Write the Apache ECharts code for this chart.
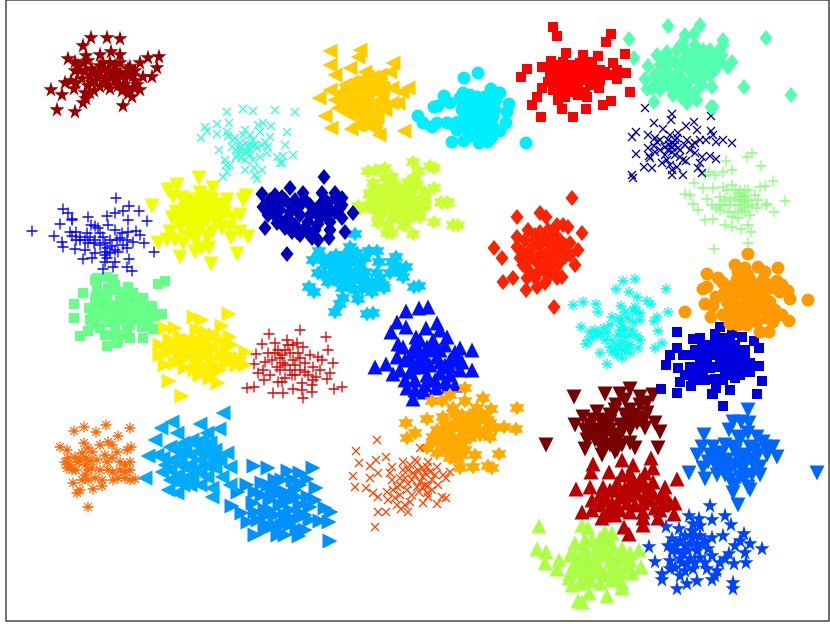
<!DOCTYPE html>
<html>
<head>
<meta charset="utf-8">
<title>clusters</title>
<script src="https://cdn.jsdelivr.net/npm/echarts@6/dist/echarts.min.js"></script>
<style>
  html, body { margin: 0; padding: 0; background: #fff; }
  #main { width: 830px; height: 624px; }
</style>
</head>
<body>
<div id="main"></div>
<script>
// points, one list per cluster
const darkRedStars = [[91,37],[107,37],[120,38],[83,45],[68,58],[86,55],[100,54],[111,51],[120,54],[75,61],[159,56],[148,57],[140,62],[157,67],[152,76],[143,76],[51,89],[62,94],[57,109],[75,111],[83,102],[123,105],[132,96],[140,89],[65,82],[74,88],[76,82],[85,70],[80,70],[90,75],[100,72],[105,78],[110,70],[115,65],[120,72],[125,78],[130,72],[135,80],[128,88],[118,85],[110,88],[105,82],[95,80],[88,85],[85,92],[90,92],[100,65],[110,62],[120,62],[128,68],[135,70],[95,72],[75,70],[84,62],[115,80],[122,90],[134,87],[92,68],[98,76],[104,68],[112,75],[118,78],[124,84],[130,66],[126,72],[108,84],[100,86],[92,82],[82,78],[78,65],[88,60],[133,75],[116,70],[103,62],[86,98],[94,90],[128,93],[137,84],[71,80]];
const turquoiseCross = [[227,112],[243,109],[253,111],[275,110],[205,127],[207,131],[201,138],[217,124],[217,134],[229,123],[227,132],[219,150],[225,160],[227,172],[223,177],[245,170],[262,170],[257,179],[263,123],[271,126],[270,137],[245,130],[253,140],[240,143],[233,140],[248,147],[257,148],[238,155],[245,152],[253,160],[260,157],[267,153],[260,132],[277,157],[280,163],[295,112],[287,132],[285,145],[293,155],[283,156],[282,163],[228,136],[236,150],[250,135],[265,142],[241,158],[254,168],[226,165],[250,150],[246,143],[235,138],[240,150],[243,135],[255,145],[250,155],[262,145],[258,125],[268,147],[232,147],[245,160],[255,175],[230,165],[236,157],[241,147],[248,152],[252,146]];
const yellowDown = [[199,178],[177,185],[168,190],[152,206],[246,196],[213,188],[200,193],[182,198],[173,197],[183,200],[176,212],[172,218],[180,227],[170,232],[158,243],[167,240],[183,243],[180,257],[195,252],[202,248],[209,248],[211,264],[237,254],[248,237],[231,238],[240,232],[240,215],[243,200],[200,210],[213,207],[227,200],[197,227],[207,237],[217,223],[187,217],[207,197],[220,213],[230,227],[193,200],[207,220],[197,215],[205,205],[215,215],[190,230],[225,205],[195,240],[190,205],[200,200],[212,200],[220,205],[185,210],[195,208],[205,213],[215,222],[225,213],[180,220],[190,222],[202,225],[212,232],[222,228],[197,235],[187,237],[175,240],[205,218],[210,208],[232,218],[195,222]];
const darkBlueDiamonds = [[287,254],[353,213],[345,232],[329,238],[318,240],[342,218],[335,198],[324,177],[290,188],[303,193],[322,193],[335,193],[342,198],[262,194],[263,207],[265,228],[277,223],[277,200],[273,213],[285,200],[295,200],[310,205],[320,205],[330,210],[290,212],[300,215],[310,215],[320,218],[330,222],[285,222],[295,225],[305,228],[315,230],[280,210],[340,208],[300,205],[275,195],[285,228],[297,232],[308,233],[270,200],[268,215],[282,197],[292,207],[305,200],[315,210],[325,200],[335,212],[342,205],[278,218],[288,218],[298,208],[308,222],[318,224],[325,214],[300,235],[312,238],[272,205],[292,232],[330,230],[328,203],[280,202]];
const bluePlus = [[32,231],[54,236],[116,198],[63,209],[68,213],[88,217],[72,220],[60,224],[107,216],[115,213],[123,211],[129,206],[139,211],[128,220],[147,221],[95,226],[108,225],[115,230],[70,232],[87,233],[136,231],[140,235],[62,242],[63,247],[76,240],[75,249],[94,243],[103,237],[127,240],[133,242],[144,243],[154,252],[127,248],[115,250],[105,252],[85,250],[83,259],[107,258],[115,262],[129,259],[103,269],[113,267],[127,267],[132,271],[95,253],[88,243],[110,253],[117,240],[100,233],[80,237],[123,245],[91,225],[72,219],[105,255],[122,233],[80,240],[95,240],[100,245],[105,243],[110,240],[90,237],[98,228],[85,240],[107,248],[112,246],[118,252],[72,236],[76,232],[120,238],[128,232],[92,258],[105,262]];
const greenSquares = [[74,304],[74,318],[80,336],[88,331],[83,293],[89,308],[97,278],[107,277],[113,279],[158,284],[165,281],[128,287],[97,288],[143,298],[152,306],[162,314],[154,316],[153,329],[143,338],[142,327],[130,338],[117,343],[107,346],[100,328],[90,320],[113,290],[107,297],[120,300],[133,293],[103,310],[117,312],[133,317],[147,307],[100,317],[115,327],[127,330],[137,300],[110,305],[122,320],[108,322],[128,307],[95,280],[96,296],[140,320],[115,285],[120,292],[125,300],[118,305],[112,312],[105,303],[98,305],[95,300],[125,314],[118,320],[112,318],[105,317],[130,325],[135,310],[145,315],[122,335],[112,335],[105,335],[95,325],[138,308],[128,297],[100,295],[148,325],[108,288],[118,340],[92,315]];
const yellowRight = [[229,314],[194,317],[202,320],[222,326],[165,328],[175,328],[230,337],[160,345],[246,352],[245,365],[169,381],[182,396],[218,383],[210,378],[200,375],[160,355],[207,333],[197,330],[180,337],[173,347],[187,350],[200,347],[213,347],[227,347],[233,357],[237,365],[227,363],[213,357],[207,367],[197,360],[183,360],[175,363],[220,340],[190,340],[203,357],[168,353],[185,345],[192,348],[180,355],[190,355],[205,340],[215,335],[215,365],[222,355],[200,365],[195,370],[185,368],[178,345],[170,340],[210,350],[205,352],[220,370],[232,345],[197,340],[165,365],[212,372],[240,358],[226,355]];
const redPlus = [[300,330],[326,337],[328,350],[287,340],[297,343],[333,363],[330,373],[327,379],[342,387],[334,389],[302,383],[312,385],[312,392],[302,390],[293,389],[283,393],[303,398],[318,357],[322,360],[313,367],[305,363],[293,360],[285,350],[303,347],[290,353],[300,370],[292,375],[283,363],[282,382],[313,380],[316,377],[269,334],[262,344],[275,343],[256,354],[268,353],[254,364],[263,370],[258,373],[264,380],[247,388],[254,387],[273,393],[277,367],[275,353],[278,382],[288,345],[295,365],[280,370],[308,375],[272,360],[280,358],[285,365],[290,370],[298,353],[310,355],[295,375],[285,378],[270,375],[282,355],[305,372],[293,345],[278,350],[300,358],[265,362],[320,370]];
const orangeAsterisk = [[74,431],[84,427],[96,432],[106,425],[130,428],[118,436],[108,442],[131,447],[60,447],[67,450],[84,443],[100,445],[92,452],[82,453],[117,452],[127,450],[65,462],[67,468],[80,460],[107,462],[120,462],[130,462],[130,470],[88,470],[113,472],[125,478],[135,479],[113,480],[102,480],[88,480],[73,483],[82,480],[77,493],[93,489],[102,486],[88,507],[125,472],[97,460],[75,457],[90,461],[112,445],[70,465],[85,475],[78,462],[86,458],[92,468],[100,470],[105,455],[112,458],[95,478],[120,470],[125,465],[68,458],[72,470],[85,465],[80,490],[108,470],[130,480],[118,478],[88,448],[76,470]];
const azureLeft = [[223,413],[172,422],[200,424],[161,428],[219,429],[155,440],[177,433],[207,433],[148,456],[157,455],[227,453],[230,467],[145,478],[162,472],[168,490],[177,493],[212,497],[212,488],[200,485],[190,485],[222,477],[215,468],[183,443],[170,447],[163,458],[180,457],[197,445],[210,443],[213,457],[200,460],[185,467],[170,470],[200,472],[187,477],[207,477],[230,485],[176,480],[190,455],[185,450],[192,440],[205,450],[175,450],[190,465],[180,465],[205,465],[195,470],[178,475],[210,465],[220,460],[165,465],[198,452],[172,460],[183,485],[215,450],[202,440],[208,455],[192,478],[170,480]];
const azureRight = [[254,466],[268,468],[238,492],[247,485],[232,506],[242,513],[248,522],[255,535],[267,525],[267,515],[253,503],[255,492],[313,468],[288,471],[300,473],[307,479],[316,488],[325,508],[331,512],[320,521],[329,522],[330,541],[299,536],[285,535],[297,529],[310,507],[297,497],[287,493],[300,513],[287,517],[308,497],[293,480],[275,480],[280,505],[270,500],[275,515],[265,530],[262,483],[275,495],[290,510],[282,525],[272,490],[262,495],[270,510],[280,490],[285,500],[295,490],[300,505],[285,515],[275,525],[265,510],[255,512],[290,525],[305,515],[310,520],[295,520],[282,480],[258,520],[268,485],[305,530],[290,500],[278,535],[315,500],[300,485]];
const orangeRedCross = [[377,440],[356,451],[359,463],[375,527],[353,476],[355,487],[366,488],[370,478],[370,466],[376,460],[386,457],[378,473],[373,493],[378,497],[387,492],[378,512],[386,512],[397,505],[401,509],[408,512],[392,467],[403,462],[417,462],[420,448],[437,467],[443,475],[450,472],[446,478],[442,497],[446,498],[437,504],[423,503],[428,497],[410,502],[400,495],[392,480],[405,478],[413,473],[423,477],[432,480],[423,488],[407,490],[417,487],[427,467],[397,487],[422,468],[403,470],[427,493],[390,473],[412,480],[395,498],[419,492],[425,485],[410,465],[430,472],[408,470],[415,475],[420,482],[428,486],[435,475],[400,485],[393,490],[412,495],[405,505],[388,500],[432,490],[418,470],[425,473],[400,478],[438,485],[415,460],[428,462],[408,484]];
const amberHexagrams = [[406,423],[415,433],[407,438],[427,419],[465,388],[450,395],[465,401],[483,398],[432,401],[442,401],[517,408],[504,427],[516,429],[499,454],[488,466],[492,468],[473,467],[460,468],[475,455],[462,455],[450,458],[437,453],[427,448],[491,409],[477,408],[453,408],[490,437],[480,435],[490,423],[443,417],[437,430],[433,442],[443,443],[457,423],[470,423],[480,420],[463,433],[450,433],[462,445],[450,448],[470,415],[455,415],[443,430],[475,430],[445,425],[452,428],[460,425],[468,430],[475,425],[485,430],[470,438],[460,440],[450,438],[440,437],[445,450],[455,452],[465,450],[458,460],[483,415],[475,413],[462,415],[495,428],[488,420],[455,440],[433,437],[445,445],[468,418]];
const blueUp = [[406,311],[419,308],[428,307],[397,322],[391,332],[406,327],[426,328],[437,323],[375,367],[386,364],[472,350],[447,337],[440,330],[416,337],[398,344],[460,348],[472,370],[460,370],[455,385],[448,386],[436,388],[424,392],[407,388],[413,399],[393,374],[405,380],[415,380],[397,357],[413,350],[427,347],[437,357],[450,360],[423,367],[413,367],[440,373],[450,375],[428,380],[403,347],[433,340],[457,360],[415,345],[420,352],[425,358],[432,350],[440,350],[445,345],[410,358],[405,360],[418,362],[430,365],[445,365],[455,352],[435,345],[420,340],[427,375],[410,372],[435,380],[445,382],[400,370],[450,367],[462,362],[425,385],[415,390],[440,362]];
const skyHexagrams = [[355,234],[350,247],[319,251],[313,260],[309,287],[314,292],[335,312],[340,304],[343,298],[358,299],[367,314],[373,313],[414,287],[419,286],[403,277],[406,267],[396,257],[395,265],[390,273],[384,288],[372,292],[362,289],[342,288],[328,282],[318,273],[325,265],[336,255],[357,253],[369,251],[377,251],[379,262],[377,273],[368,282],[352,280],[340,273],[350,263],[358,272],[333,270],[383,285],[345,255],[330,258],[349,285],[330,262],[338,262],[345,268],[355,262],[365,258],[345,278],[335,280],[325,275],[360,280],[350,272],[365,272],[372,283],[380,278],[392,262],[397,270],[355,290],[335,272],[342,262],[322,258],[374,285],[352,255],[342,280],[360,265]];
const limeHexagrams = [[413,162],[430,166],[434,168],[418,171],[368,171],[376,170],[385,168],[392,177],[373,183],[434,188],[441,202],[447,202],[425,205],[358,206],[370,195],[387,188],[408,182],[417,185],[425,192],[397,197],[412,200],[380,203],[360,209],[378,223],[387,233],[392,233],[413,234],[403,225],[434,222],[453,225],[458,225],[442,203],[448,203],[423,207],[420,217],[410,218],[393,218],[383,213],[400,207],[413,203],[370,193],[400,190],[390,200],[405,212],[380,190],[395,185],[400,195],[405,192],[410,195],[385,195],[378,200],[385,205],[395,208],[405,205],[415,210],[420,200],[395,215],[388,225],[402,215],[375,210],[368,205],[412,190],[390,180],[415,178],[425,198],[405,225],[378,215],[385,178]];
const goldLeft = [[330,51],[360,50],[358,57],[330,65],[350,68],[335,75],[393,63],[380,75],[390,72],[408,88],[402,92],[319,98],[330,90],[325,116],[331,128],[351,129],[357,125],[371,127],[379,135],[404,131],[398,103],[392,103],[383,88],[373,77],[360,80],[340,93],[350,100],[367,97],[377,113],[357,115],[338,108],[363,117],[380,100],[367,77],[357,88],[377,117],[347,88],[372,90],[358,100],[345,85],[366,108],[345,98],[352,90],[362,85],[370,82],[378,90],[382,95],[375,105],[365,105],[355,108],[348,105],[340,100],[360,95],[368,90],[385,110],[370,115],[360,125],[350,115],[375,125],[365,72],[352,82],[335,100],[392,88],[345,112],[380,83],[368,122],[355,92]];
const cyanCircles = [[464,78],[478,73],[444,96],[434,107],[438,106],[418,116],[423,123],[432,127],[437,123],[447,123],[452,124],[452,142],[464,141],[479,143],[488,142],[492,137],[526,143],[500,131],[506,123],[507,112],[509,104],[500,93],[491,89],[496,100],[450,103],[470,95],[477,97],[463,103],[480,110],[467,117],[477,123],[493,117],[493,127],[467,130],[480,133],[457,130],[483,103],[473,108],[463,93],[470,125],[484,120],[475,137],[470,103],[475,100],[485,97],[487,108],[490,110],[472,115],[462,110],[480,118],[470,108],[485,125],[475,130],[465,125],[458,122],[472,135],[485,133],[495,110],[460,98],[478,125]];
const redSquares = [[553,27],[557,36],[521,77],[532,105],[541,117],[537,97],[527,69],[542,88],[551,61],[542,67],[611,34],[606,42],[566,53],[583,55],[598,56],[625,54],[613,63],[617,70],[626,73],[617,79],[630,92],[611,101],[603,105],[586,109],[573,117],[562,109],[599,88],[587,97],[558,100],[602,75],[593,70],[580,63],[563,62],[557,80],[570,80],[583,80],[593,80],[567,90],[578,88],[555,70],[570,70],[583,72],[553,90],[600,70],[562,72],[575,75],[590,75],[550,78],[550,70],[560,75],[570,65],[575,68],[585,65],[592,62],[575,85],[565,85],[560,90],[590,85],[585,92],[578,95],[565,97],[555,85],[560,65],[600,80],[605,72],[585,78],[570,90],[595,75],[548,82],[576,70],[565,78],[588,70],[575,92],[610,75]];
const springDiamonds = [[668,26],[700,25],[629,39],[766,38],[634,58],[648,66],[645,79],[647,89],[654,102],[687,103],[711,107],[713,107],[744,87],[791,95],[712,87],[728,67],[732,62],[723,40],[723,45],[694,34],[683,42],[657,55],[667,52],[697,100],[673,95],[660,90],[663,77],[677,73],[690,80],[703,77],[713,62],[703,50],[693,62],[677,50],[683,60],[667,67],[687,88],[700,63],[717,53],[720,62],[697,90],[657,80],[707,67],[677,87],[670,60],[675,62],[680,70],[688,68],[695,75],[700,70],[710,75],[675,80],[668,85],[683,80],[690,55],[700,55],[710,50],[685,50],[668,75],[655,75],[660,65],[680,90],[690,92],[702,85],[715,70],[695,45],[685,35],[705,60],[652,88],[665,58],[698,80],[682,98],[722,55]];
const navyCross = [[645,108],[672,114],[671,120],[711,116],[654,123],[663,129],[694,122],[686,126],[697,130],[636,132],[632,137],[648,135],[711,131],[713,135],[723,140],[732,143],[716,142],[706,140],[636,154],[644,167],[652,168],[632,175],[633,178],[672,175],[672,170],[683,175],[702,173],[686,161],[700,163],[716,159],[710,156],[702,157],[695,153],[695,143],[687,140],[678,133],[673,143],[665,147],[657,142],[648,148],[650,158],[662,163],[667,160],[675,155],[680,157],[677,167],[670,135],[655,138],[660,150],[672,147],[677,138],[669,145],[675,140],[649,156],[668,150],[672,152],[675,145],[680,150],[685,145],[690,150],[665,155],[670,165],[655,152],[660,140],[678,148],[668,140],[692,145],[654,146],[683,160],[698,168],[700,140]];
const lightGreenPlus = [[747,157],[752,153],[726,161],[761,166],[732,170],[723,172],[709,172],[715,175],[705,175],[773,181],[765,186],[694,183],[685,194],[690,195],[703,188],[713,188],[785,201],[767,204],[758,200],[707,199],[693,204],[723,187],[732,185],[740,190],[748,190],[720,197],[730,198],[742,200],[760,187],[698,210],[705,220],[713,219],[723,205],[732,217],[732,227],[741,229],[748,225],[751,232],[748,243],[714,249],[774,212],[766,205],[757,208],[720,210],[740,205],[748,207],[730,205],[738,193],[745,197],[727,190],[740,197],[745,202],[735,200],[738,205],[742,210],[748,200],[735,212],[728,212],[745,212],[752,205],[720,205],[735,190],[742,195],[725,200],[712,205],[738,218],[725,225],[755,195],[745,190],[716,208],[750,215]];
const redOrangeDiamonds = [[517,217],[540,213],[546,217],[494,248],[502,258],[503,282],[513,278],[527,278],[526,290],[545,283],[517,237],[528,230],[522,252],[517,247],[533,247],[547,240],[557,225],[537,287],[535,260],[523,265],[548,263],[557,278],[572,198],[554,307],[562,277],[563,225],[568,227],[582,233],[578,250],[575,265],[553,265],[560,250],[570,243],[555,228],[565,257],[555,245],[553,255],[540,255],[530,258],[545,235],[525,240],[535,240],[540,245],[550,245],[530,250],[540,265],[550,255],[555,235],[560,240],[565,245],[545,272],[550,275],[530,272],[535,278],[540,232],[530,255],[560,262],[545,255],[520,258],[570,255],[548,230],[527,262],[538,272],[556,268],[535,235]];
const cyanAsterisk = [[623,281],[635,279],[616,289],[666,289],[629,292],[637,297],[647,301],[651,304],[573,305],[583,302],[596,304],[598,312],[621,306],[635,307],[668,312],[640,313],[657,317],[654,321],[633,310],[581,327],[590,332],[593,337],[586,344],[604,328],[607,333],[612,317],[620,318],[633,322],[623,327],[625,337],[637,336],[658,331],[662,343],[655,348],[638,348],[630,353],[622,358],[600,353],[607,364],[610,347],[618,345],[625,350],[620,330],[628,318],[588,340],[620,322],[625,330],[630,335],[618,335],[612,340],[605,340],[598,335],[628,345],[615,350],[622,342],[630,345],[640,340],[632,330],[640,320],[636,312],[610,325],[625,312],[617,355],[622,350],[612,352],[600,332],[595,330]];
const orangeCircles = [[748,254],[707,274],[778,268],[735,265],[745,268],[758,267],[718,278],[703,289],[707,287],[716,297],[705,304],[713,306],[685,312],[711,317],[723,315],[730,324],[738,325],[747,325],[760,332],[769,332],[757,322],[767,318],[782,315],[789,321],[808,300],[790,299],[788,291],[782,285],[777,281],[770,302],[727,302],[723,283],[737,280],[750,280],[763,280],[757,290],[740,293],[747,303],[760,307],[737,307],[750,317],[730,287],[745,290],[755,285],[765,292],[773,288],[735,298],[745,310],[755,300],[765,310],[775,310],[745,320],[735,318],[725,292],[738,272],[748,275],[765,272],[770,285],[780,292],[755,312],[752,295],[742,285],[730,310],[762,298],[773,322]];
const blueSquares = [[677,332],[666,365],[670,355],[677,348],[661,389],[677,393],[680,382],[691,386],[712,394],[716,388],[730,390],[757,394],[762,381],[759,366],[750,363],[759,348],[754,341],[742,337],[720,327],[732,333],[693,339],[700,338],[715,334],[745,370],[735,378],[723,380],[715,379],[693,380],[678,368],[683,355],[690,367],[702,347],[713,350],[727,343],[738,353],[707,360],[720,360],[733,363],[703,373],[717,367],[740,360],[723,406],[713,394],[695,350],[700,360],[690,355],[695,370],[705,355],[710,345],[718,345],[725,350],[730,355],[735,345],[722,338],[715,340],[745,350],[710,368],[725,370],[730,375],[740,375],[705,380],[685,375],[745,360],[715,355],[725,362],[705,365],[730,340],[750,372],[698,380],[735,370]];
const brownDown = [[546,445],[574,397],[605,394],[620,394],[630,389],[640,397],[653,395],[616,405],[647,403],[575,425],[583,417],[597,412],[610,415],[630,410],[647,413],[655,423],[660,432],[658,448],[645,428],[635,448],[630,443],[617,450],[602,455],[585,449],[587,440],[597,430],[610,430],[623,430],[603,440],[617,440],[627,420],[593,420],[607,423],[637,423],[590,425],[600,420],[610,422],[620,425],[630,425],[600,435],[612,435],[620,435],[630,430],[640,420],[595,440],[590,435],[605,447],[610,445],[622,445],[600,445],[585,430],[625,415],[635,415],[615,410],[605,430],[645,418],[640,405],[615,452],[625,400]];
const redUp = [[593,464],[591,472],[622,460],[633,465],[651,458],[653,468],[609,472],[576,489],[590,487],[582,512],[677,479],[645,473],[630,473],[665,487],[674,514],[675,503],[658,518],[643,525],[624,527],[629,534],[604,515],[602,518],[592,500],[603,487],[617,483],[630,487],[653,482],[607,500],[620,497],[637,493],[653,493],[663,505],[643,512],[630,512],[617,508],[643,503],[627,503],[610,508],[665,495],[643,518],[610,490],[618,490],[625,495],[635,485],[645,485],[650,500],[660,498],[655,508],[645,495],[630,495],[612,503],[600,505],[592,510],[625,488],[615,515],[635,505],[620,510],[650,488],[640,480],[600,495],[670,503],[632,480],[660,510],[608,514],[622,475]];
const azureDown = [[748,410],[817,473],[689,473],[704,435],[738,505],[733,422],[741,422],[749,423],[729,430],[738,437],[748,433],[763,442],[773,447],[777,457],[767,455],[702,447],[713,447],[697,455],[703,468],[705,479],[717,475],[733,493],[748,487],[760,475],[730,480],[740,477],[713,460],[727,460],[740,457],[753,460],[733,447],[750,447],[760,467],[720,468],[757,437],[725,445],[735,452],[745,455],[755,450],[765,447],[720,455],[725,465],[735,465],[745,465],[755,468],[710,455],[715,465],[725,475],[735,485],[745,478],[752,475],[758,455],[740,440],[722,453],[708,462],[768,448],[742,470],[730,470],[750,490]];
const blueStars = [[710,505],[725,515],[689,515],[699,518],[712,519],[731,524],[666,526],[679,528],[649,546],[655,561],[744,533],[740,540],[750,543],[762,548],[745,552],[746,562],[734,563],[729,553],[720,562],[723,535],[712,537],[693,523],[672,538],[662,573],[662,579],[677,588],[687,583],[697,580],[712,579],[715,575],[733,582],[733,588],[680,575],[693,568],[707,568],[670,560],[683,553],[697,550],[677,550],[690,543],[703,543],[687,563],[700,557],[685,535],[695,535],[680,540],[685,545],[692,537],[697,545],[705,540],[700,535],[688,550],[680,558],[690,558],[672,550],[676,545],[695,562],[705,562],[712,555],[685,570],[675,567],[670,568],[725,558],[735,545],[692,530],[700,525],[668,545],[682,562],[708,548],[717,570]];
const limeUp = [[539,526],[537,549],[546,552],[545,563],[559,560],[557,569],[570,555],[575,543],[582,525],[588,528],[585,540],[569,578],[572,585],[578,601],[582,602],[589,593],[607,596],[600,583],[590,580],[580,583],[622,583],[622,588],[632,573],[641,567],[639,550],[630,553],[622,548],[612,533],[607,540],[598,545],[587,553],[580,563],[597,563],[610,553],[613,568],[627,567],[587,570],[612,580],[600,555],[573,567],[575,555],[585,548],[595,555],[605,550],[615,560],[620,555],[590,565],[600,570],[605,575],[595,572],[580,570],[570,573],[610,562],[620,572],[575,562],[592,540],[600,538],[612,545],[605,532],[625,558],[585,575],[630,560],[615,575],[590,560],[582,555]];

const star5 = 'path://M50 0L61 35L98 35L68 57L79 91L50 70L21 91L32 57L2 35L39 35Z';
const star6 = 'path://M50 0L64 25L93 25L79 50L93 75L64 75L50 100L36 75L7 75L21 50L7 25L36 25Z';
const plus = 'path://M50 0L50 100M0 50L100 50';
const cross = 'path://M0 0L100 100M0 100L100 0';
const asterisk = 'path://M50 0L50 100M0 50L100 50M15 15L85 85M15 85L85 15';

function dots(data, symbol, size, color, rotate) {
  return { type: 'scatter', data, symbol, symbolSize: size, symbolRotate: rotate || 0,
    silent: true, itemStyle: { color, opacity: 1 } };
}
function lines(data, symbol, size, color) {
  return { type: 'scatter', data, symbol, symbolSize: size, silent: true,
    itemStyle: { color: 'transparent', borderColor: color, borderWidth: 1.3, opacity: 1 } };
}

const series = [
  dots(limeUp, 'triangle', 15, '#aaff44'),
  dots(blueStars, star5, 15, '#0044ff'),
  dots(azureDown, 'triangle', 15, '#0066ff', 180),
  dots(redUp, 'triangle', 15, '#bb0000'),
  dots(brownDown, 'triangle', 15, '#770000', 180),
  dots(blueSquares, 'rect', 10, '#0000dd'),
  dots(orangeCircles, 'circle', 13, '#ff9900'),
  lines(cyanAsterisk, asterisk, 11, '#00ffee'),
  dots(redOrangeDiamonds, 'diamond', [13, 16], '#ff2200'),
  lines(lightGreenPlus, plus, 11, '#88ff77'),
  lines(navyCross, cross, 8, '#000099'),
  dots(springDiamonds, 'diamond', [13, 16], '#55ffb0'),
  dots(redSquares, 'rect', 10, '#ff0000'),
  dots(cyanCircles, 'circle', 13, '#00eeff'),
  dots(goldLeft, 'triangle', 15, '#ffcc00', 90),
  dots(limeHexagrams, star6, 15, '#ccff33'),
  dots(skyHexagrams, star6, 15, '#00ccff'),
  dots(blueUp, 'triangle', 15, '#0011ff'),
  dots(amberHexagrams, star6, 15, '#ffaa00'),
  lines(orangeRedCross, cross, 8, '#ff4400'),
  dots(azureRight, 'triangle', 15, '#0090ff', -90),
  dots(azureLeft, 'triangle', 15, '#00aaff', 90),
  lines(orangeAsterisk, asterisk, 11, '#ff6600'),
  lines(redPlus, plus, 11, '#dd0000'),
  dots(yellowRight, 'triangle', 15, '#ffee00', -90),
  dots(greenSquares, 'rect', 10, '#66ff88'),
  lines(bluePlus, plus, 11, '#0000ff'),
  dots(darkBlueDiamonds, 'diamond', [13, 16], '#0000bb'),
  dots(yellowDown, 'triangle', 15, '#eeff00', 180),
  lines(turquoiseCross, cross, 8, '#33ffd6'),
  dots(darkRedStars, star5, 15, '#990000')
];

const chart = echarts.init(document.getElementById('main'), null, { renderer: 'canvas' });
chart.setOption({
  animation: false,
  backgroundColor: '#fff',
  grid: { left: 6, top: 0, width: 823, height: 621, show: true,
    borderColor: '#444', borderWidth: 1.5, backgroundColor: '#fff' },
  xAxis: { type: 'value', min: 6, max: 829, show: false },
  yAxis: { type: 'value', min: 0, max: 621, inverse: true, show: false },
  series
});
</script>
</body>
</html>
